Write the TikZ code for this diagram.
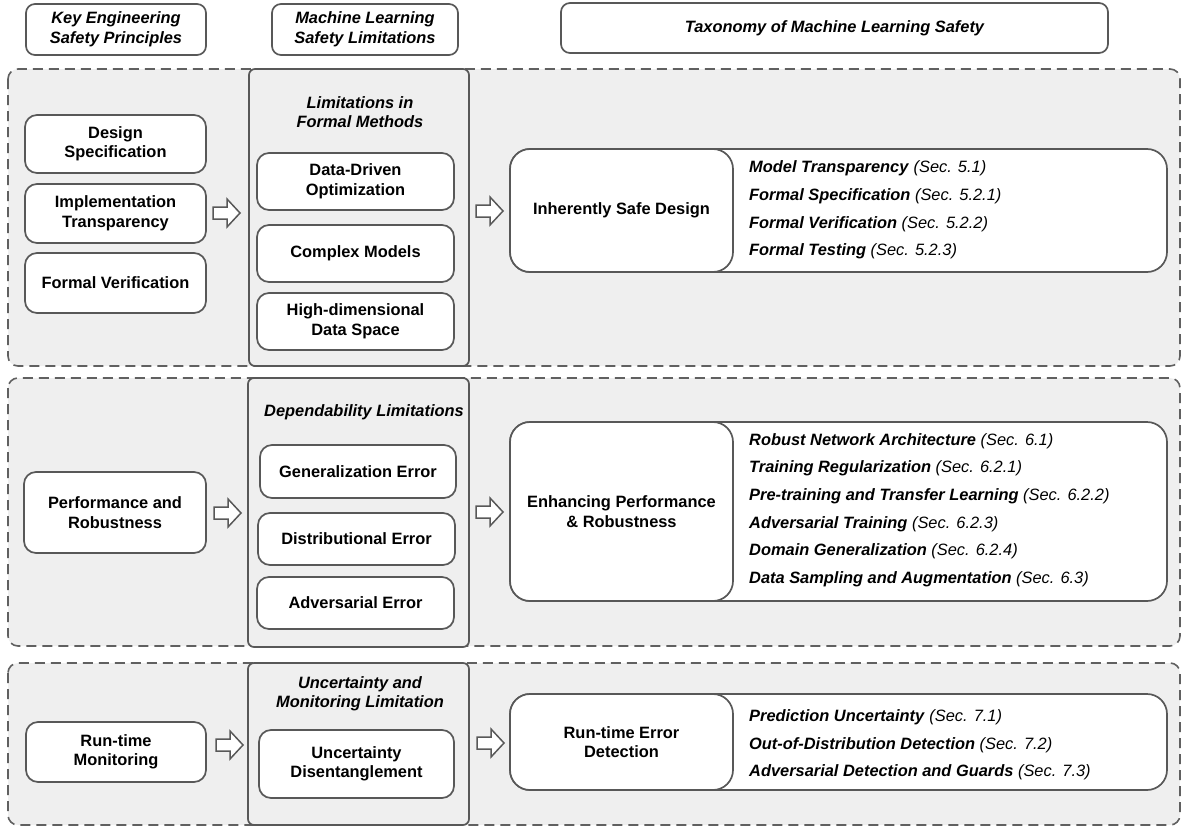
\documentclass[tikz,border=0pt]{standalone}
\usepackage{fontspec}
\setmainfont{Liberation Sans}
\newcommand\fsz{\fontsize{16.4pt}{19.5pt}\selectfont}
\newcommand\lsz{\fontsize{16.4pt}{27.6pt}\selectfont}
\newcommand\itm[2]{\textbf{\textit{#1}} \textit{(Sec. #2)}}
\definecolor{panelgray}{HTML}{EFEFEF}
\definecolor{dashgray}{HTML}{606060}
\definecolor{boxgray}{HTML}{585858}
\tikzset{
  hdr/.style={draw=boxgray, line width=1.7pt, rounded corners=9pt, fill=white, font=\fsz\bfseries\itshape, align=center, inner sep=0pt},
  panel/.style={draw=dashgray, line width=1.6pt, dash pattern=on 10pt off 6pt, fill=panelgray, rounded corners=10pt},
  colbox/.style={draw=boxgray, line width=1.7pt, fill=panelgray, rounded corners=6pt},
  wbox/.style={draw=boxgray, line width=1.7pt, fill=white, rounded corners=12pt, font=\fsz\bfseries, align=center, inner sep=0pt},
  coltitle/.style={font=\fsz\bfseries\itshape, align=center, inner sep=0pt},
  taxbig/.style={draw=boxgray, line width=1.7pt, fill=white, rounded corners=20pt},
  taxleft/.style={draw=boxgray, line width=1.7pt, fill=white, rounded corners=20pt, font=\fsz\bfseries, align=center, inner sep=0pt},
  taxlist/.style={font=\lsz, align=left, anchor=west, inner sep=0pt},
  barrow/.pic={\draw[boxgray, line width=1.5pt, fill=white, line join=miter]
     (0,-6) -- (14,-6) -- (14,-14) -- (27,0) -- (14,14) -- (14,6) -- (0,6) -- cycle;}
}
\begin{document}
\begin{tikzpicture}[x=1pt, y=-1pt]
\useasboundingbox (0,0) rectangle (1184,830);

% headers
\node[hdr, minimum width=180pt, minimum height=51pt] (h1) at (116,29.5) {Key Engineering\\Safety Principles};
\node[hdr, minimum width=186pt, minimum height=51pt] (h2) at (365,29.5) {Machine Learning\\Safety Limitations};
\node[hdr, minimum width=547pt, minimum height=50pt] (h3) at (834.5,28) {Taxonomy of Machine Learning Safety};

% panels
\draw[panel] (8,69) rectangle (1180,366);
\draw[panel] (8,378) rectangle (1180,646);
\draw[panel] (8,663) rectangle (1180,825);

% columns
\node[colbox, minimum width=220pt, minimum height=297pt, inner sep=0pt] (c1) at (359,217.5) {};
\node[colbox, minimum width=221pt, minimum height=269pt, inner sep=0pt] (c2) at (358.5,512.5) {};
\node[colbox, minimum width=221pt, minimum height=162pt, inner sep=0pt] (c3) at (358.5,744) {};

% ===== panel 1 =====
\node[wbox, minimum width=181pt, minimum height=58pt] (ds) at (115.5,144) {Design\\Specification};
\node[wbox, minimum width=181pt, minimum height=59pt] (it) at (115.5,213.5) {Implementation\\Transparency};
\node[wbox, minimum width=181pt, minimum height=60pt] (fv) at (115.5,283) {Formal Verification};

\node[coltitle] (t1) at (360,112) {Limitations in\\Formal Methods};
\node[wbox, minimum width=197pt, minimum height=57pt] (ddo) at (355.5,181.5) {Data-Driven\\Optimization};
\node[wbox, minimum width=197pt, minimum height=57pt] (cm) at (355.5,253.5) {Complex Models};
\node[wbox, minimum width=197pt, minimum height=57pt] (hd) at (355.5,321.5) {High-dimensional\\Data Space};

\node[taxbig, minimum width=657pt, minimum height=123pt, inner sep=0pt] (x1) at (838.5,210.5) {};
\node[taxleft, minimum width=223pt, minimum height=123pt] (isd) at (621.5,210.5) {Inherently Safe Design};
\node[taxlist] (l1) at (749,210) {\itm{Model Transparency}{5.1}\\\itm{Formal Specification}{5.2.1}\\\itm{Formal Verification}{5.2.2}\\\itm{Formal Testing}{5.2.3}};

\pic at (213,213) {barrow};
\pic at (476,211) {barrow};

% ===== panel 2 =====
\node[wbox, minimum width=182pt, minimum height=81pt] (pr) at (115,512.5) {Performance and\\Robustness};

\node[coltitle] (t2) at (364,412) {Dependability Limitations};
\node[wbox, minimum width=196pt, minimum height=53pt] (ge) at (358,471.5) {Generalization Error};
\node[wbox, minimum width=197pt, minimum height=52pt] (de) at (356.5,539) {Distributional Error};
\node[wbox, minimum width=197pt, minimum height=52pt] (ae) at (355.5,603) {Adversarial Error};

\node[taxbig, minimum width=657pt, minimum height=179pt, inner sep=0pt] (x2) at (838.5,511.5) {};
\node[taxleft, minimum width=223pt, minimum height=179pt] (epr) at (621.5,511.5) {Enhancing Performance\\\& Robustness};
\node[taxlist] (l2) at (749,510) {\itm{Robust Network Architecture}{6.1}\\\itm{Training Regularization}{6.2.1}\\\itm{Pre-training and Transfer Learning}{6.2.2}\\\itm{Adversarial Training}{6.2.3}\\\itm{Domain Generalization}{6.2.4}\\\itm{Data Sampling and Augmentation}{6.3}};

\pic at (214,513) {barrow};
\pic at (476,512) {barrow};

% ===== panel 3 =====
\node[wbox, minimum width=180pt, minimum height=60pt] (rtm) at (116,752) {Run-time\\Monitoring};

\node[coltitle] (t3) at (360,694) {Uncertainty and\\Monitoring Limitation};
\node[wbox, minimum width=195pt, minimum height=68pt] (ud) at (356.5,764) {Uncertainty\\Disentanglement};

\node[taxbig, minimum width=657pt, minimum height=96pt, inner sep=0pt] (x3) at (838.5,742) {};
\node[taxleft, minimum width=223pt, minimum height=96pt] (red) at (621.5,742) {Run-time Error\\Detection};
\node[taxlist] (l3) at (749,745) {\itm{Prediction Uncertainty}{7.1}\\\itm{Out-of-Distribution Detection}{7.2}\\\itm{Adversarial Detection and Guards}{7.3}};

\pic at (216,745) {barrow};
\pic at (477,743) {barrow};
\end{tikzpicture}
\end{document}
